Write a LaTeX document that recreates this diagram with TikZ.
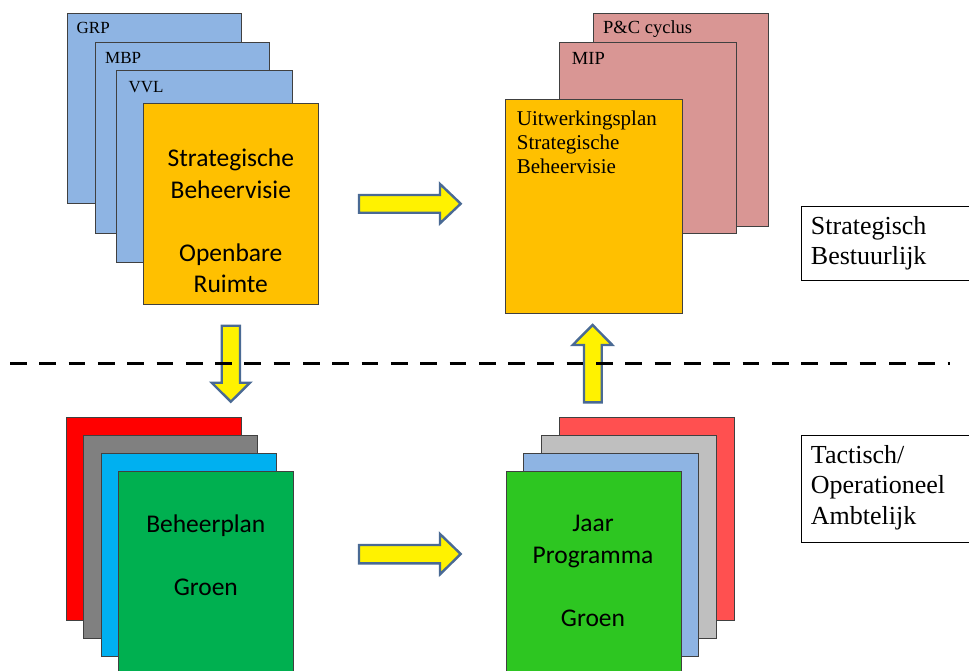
\documentclass[tikz,border=0pt]{standalone}
\usepackage{fontspec}
\setmainfont{Liberation Serif}
\newfontfamily\calib{Carlito}
\definecolor{lblue}{HTML}{8EB4E3}
\definecolor{orng}{HTML}{FFC000}
\definecolor{pcpink}{HTML}{D99694}
\definecolor{gred}{HTML}{FF0000}
\definecolor{ggray}{HTML}{808080}
\definecolor{gcyan}{HTML}{00B0F0}
\definecolor{ggreen}{HTML}{00B050}
\definecolor{jred}{HTML}{FF5050}
\definecolor{jgray}{HTML}{BFBFBF}
\definecolor{jgreen}{HTML}{2DC621}
\definecolor{arrline}{HTML}{4A6A94}
\definecolor{boxline}{HTML}{404040}
\begin{document}
\begin{tikzpicture}[x=1pt,y=-1pt,
  sheet/.style={draw=boxline, line width=0.9pt, anchor=north west, inner sep=0pt},
  smalllab/.style={anchor=west, inner sep=0pt, font=\fontsize{17}{20}\selectfont},
  pallab/.style={inner sep=0pt, align=left, font=\fontsize{21}{24}\selectfont},
  sidelab/.style={inner sep=0pt, align=left, font=\fontsize{26}{30.5}\selectfont},
  sanslab/.style={inner sep=0pt, align=center, font=\calib\fontsize{25.5}{31.5}\selectfont},
  sidebox/.style={draw=black, line width=0.8pt, anchor=north west, inner sep=0pt},
  blockarrow/.style={draw=arrline, fill=yellow, line width=2.4pt, line join=miter}]
\useasboundingbox (0,0) rectangle (969,670);

% ---- top left stack
\node[sheet, fill=lblue, minimum width=174pt, minimum height=190.5pt] (grp) at (66.7,12.7) {};
\node[sheet, fill=lblue, minimum width=174pt, minimum height=191pt] (mbp) at (95,41.7) {};
\node[sheet, fill=lblue, minimum width=176pt, minimum height=192pt] (vvl) at (116,70) {};
\node[sheet, fill=orng, minimum width=175pt, minimum height=201.3pt] (sbv) at (143.3,102.7) {};
\node[smalllab] (grpt) at (76.5,28) {GRP};
\node[smalllab] (mbpt) at (105,58.3) {MBP};
\node[smalllab] (vvlt) at (128.3,87.3) {VVL};
\node[sanslab] (sbvt) at (230.8,221) {Strategische\\Beheervisie\\[31.5pt]Openbare\\Ruimte};

% ---- top right stack
\node[sheet, fill=pcpink, minimum width=175pt, minimum height=213.3pt] (pc) at (593.3,12.7) {};
\node[sheet, fill=pcpink, minimum width=176.7pt, minimum height=191.6pt] (mip) at (559.3,41.7) {};
\node[sheet, fill=orng, minimum width=176.7pt, minimum height=213.7pt] (uwp) at (505,99) {};
\node[smalllab, font=\fontsize{18.5}{21}\selectfont] (pct) at (603,29) {P\&C cyclus};
\node[smalllab, font=\fontsize{18.5}{21}\selectfont] (mipt) at (571.7,58) {MIP};
\node[pallab, anchor=west] (uwpt) at (516.7,142.5) {Uitwerkingsplan\\Strategische\\Beheervisie};

% ---- bottom left stack
\node[sheet, fill=gred, minimum width=174.7pt, minimum height=202.7pt] (bl1) at (66,417.3) {};
\node[sheet, fill=ggray, minimum width=174.6pt, minimum height=202.7pt] (bl2) at (82.7,435) {};
\node[sheet, fill=gcyan, minimum width=175pt, minimum height=203pt] (bl3) at (100.7,452.7) {};
\node[sheet, fill=ggreen, minimum width=175pt, minimum height=210pt] (bpg) at (118.3,470.7) {};
\node[sanslab] (bpgt) at (205.8,555.5) {Beheerplan\\[31.5pt]Groen};

% ---- bottom right stack
\node[sheet, fill=jred, minimum width=175pt, minimum height=202.7pt] (br1) at (559,417.3) {};
\node[sheet, fill=jgray, minimum width=175pt, minimum height=202.7pt] (br2) at (541,435) {};
\node[sheet, fill=lblue, minimum width=175pt, minimum height=203pt] (br3) at (523.3,452.7) {};
\node[sheet, fill=jgreen, minimum width=175pt, minimum height=210pt] (jpg) at (505.7,470.7) {};
\node[sanslab] (jpgt) at (593,571) {Jaar\\Programma\\[31.5pt]Groen};

% ---- side labels
\node[sidebox, minimum width=172pt, minimum height=74pt] (strat) at (800.7,206) {};
\node[sidelab, anchor=west] (stratt) at (810.7,243) {Strategisch\\Bestuurlijk};
\node[sidebox, minimum width=172pt, minimum height=106.7pt] (tact) at (800.7,435) {};
\node[sidelab, anchor=west] (tactt) at (810.7,487.5) {Tactisch/\\Operationeel\\Ambtelijk};

% ---- block arrows
\draw[blockarrow] (359,195) -- (440,195) -- (440,184) -- (460.7,203.7) -- (440,223.3) -- (440,212.7) -- (359,212.7) -- cycle;
\draw[blockarrow] (359,545) -- (440,545) -- (440,534) -- (460.7,554) -- (440,574.3) -- (440,563.3) -- (359,563.3) -- cycle;
\draw[blockarrow] (221.7,325.7) -- (240,325.7) -- (240,382.7) -- (250,382.7) -- (230.8,401.7) -- (211.7,382.7) -- (221.7,382.7) -- cycle;
\draw[blockarrow] (584,402.3) -- (584,345) -- (572.7,345) -- (592.6,325) -- (612.3,345) -- (601.7,345) -- (601.7,402.3) -- cycle;

% ---- dashed divider
\coordinate (dl) at (10,363.3);
\coordinate (dr) at (950,363.3);
\draw[line width=3.6pt, dash pattern=on 16.7pt off 12.6pt] (dl) -- (dr);
\end{tikzpicture}
\end{document}
